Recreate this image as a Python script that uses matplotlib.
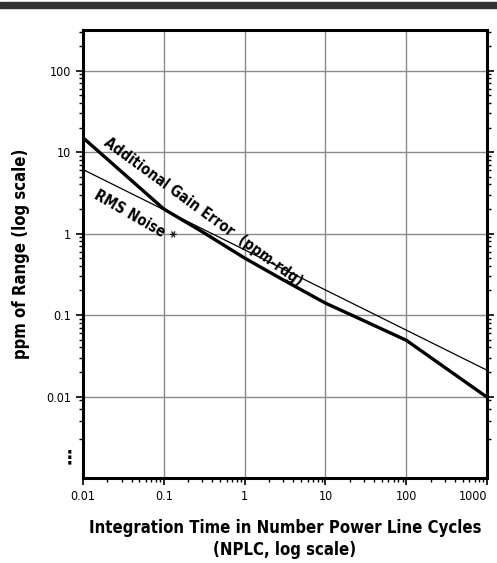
import matplotlib.pyplot as plt
from matplotlib.ticker import LogLocator, NullFormatter, FixedLocator, FixedFormatter

plt.rcParams['font.family'] = ['DejaVu Sans']
plt.rcParams['font.stretch'] = 'condensed'

# data
nplc = [0.01, 0.1, 0.3, 1, 3, 10, 30, 100, 1000]
gain_error = [15, 2.0, 1.05, 0.5, 0.27, 0.14, 0.085, 0.049, 0.0098]
noise_x = [0.01, 1000]
rms_noise = [6.1, 0.021]

y_ticks = [0.01, 0.1, 1, 10, 100]
y_labels = ['0.01', '0.1', '1', '10', '100']
x_ticks = [0.01, 0.1, 1, 10, 100, 1000]
x_labels = ['0.01', '0.1', '1', '10', '100', '1000']

fig = plt.figure(figsize=(4.97, 5.63), dpi=100)
ax = fig.add_axes([0.167, 0.151, 0.813, 0.796])

# dark band across the top of the page
fig.patches.append(plt.Rectangle((0, 0.985), 1, 0.012, transform=fig.transFigure,
                                 color='#333333', zorder=0))

ax.set_xscale('log')
ax.set_yscale('log')
ax.set_xlim(0.01, 1000)
ax.set_ylim(0.001, 10 ** 2.5)

ax.plot(nplc, gain_error, color='black', lw=2.4, solid_capstyle='butt')
ax.plot(noise_x, rms_noise, color='black', lw=0.9)

ax.xaxis.set_major_locator(FixedLocator(x_ticks))
ax.xaxis.set_major_formatter(FixedFormatter(x_labels))
ax.xaxis.set_minor_locator(LogLocator(base=10, subs=range(2, 10)))
ax.xaxis.set_minor_formatter(NullFormatter())
ax.yaxis.set_major_locator(FixedLocator(y_ticks))
ax.yaxis.set_major_formatter(FixedFormatter(y_labels))
ax.yaxis.set_minor_locator(FixedLocator(
    [k * 10.0 ** e for e in range(-2, 3) for k in range(2, 10) if k * 10.0 ** e < 316]
    + [0.003, 0.005, 0.007, 0.009]))
ax.yaxis.set_minor_formatter(NullFormatter())

ax.grid(which='major', color='#8a8a8a', lw=1.0)
ax.tick_params(which='major', length=5, width=1.2, labelsize=9, colors='black')
ax.tick_params(which='minor', length=3, width=1.0)
ax.tick_params(axis='y', right=True, which='both')
ax.tick_params(axis='y', which='both', labelright=False)
for s in ax.spines.values():
    s.set_linewidth(2.2)
ax.get_xticklabels()[-1].set_horizontalalignment('right')
ax.get_xticklabels()[-1].set_x(1000)

# vertical dots below 0.01 on the y axis
ax.text(-0.012, 0.045, '\u22ee', transform=ax.transAxes, ha='right', va='center',
        fontsize=14, fontweight='bold')

ax.text(0.0177, 12.5, 'Additional Gain Error  (ppm-rdg)', rotation=-36,
        rotation_mode='anchor', ha='left', va='baseline', fontsize=10.5, fontweight='bold')
ax.text(0.0133, 2.7, 'RMS Noise *', rotation=-30,
        rotation_mode='anchor', ha='left', va='baseline', fontsize=10.5, fontweight='bold')

ax.set_ylabel('ppm of Range (log scale)', fontsize=12, fontweight='bold', labelpad=12)
ax.set_xlabel('Integration Time in Number Power Line Cycles\n(NPLC, log scale)',
              fontsize=12, fontweight='bold', labelpad=12, linespacing=1.25)

fig.savefig('out.png', dpi=100)
